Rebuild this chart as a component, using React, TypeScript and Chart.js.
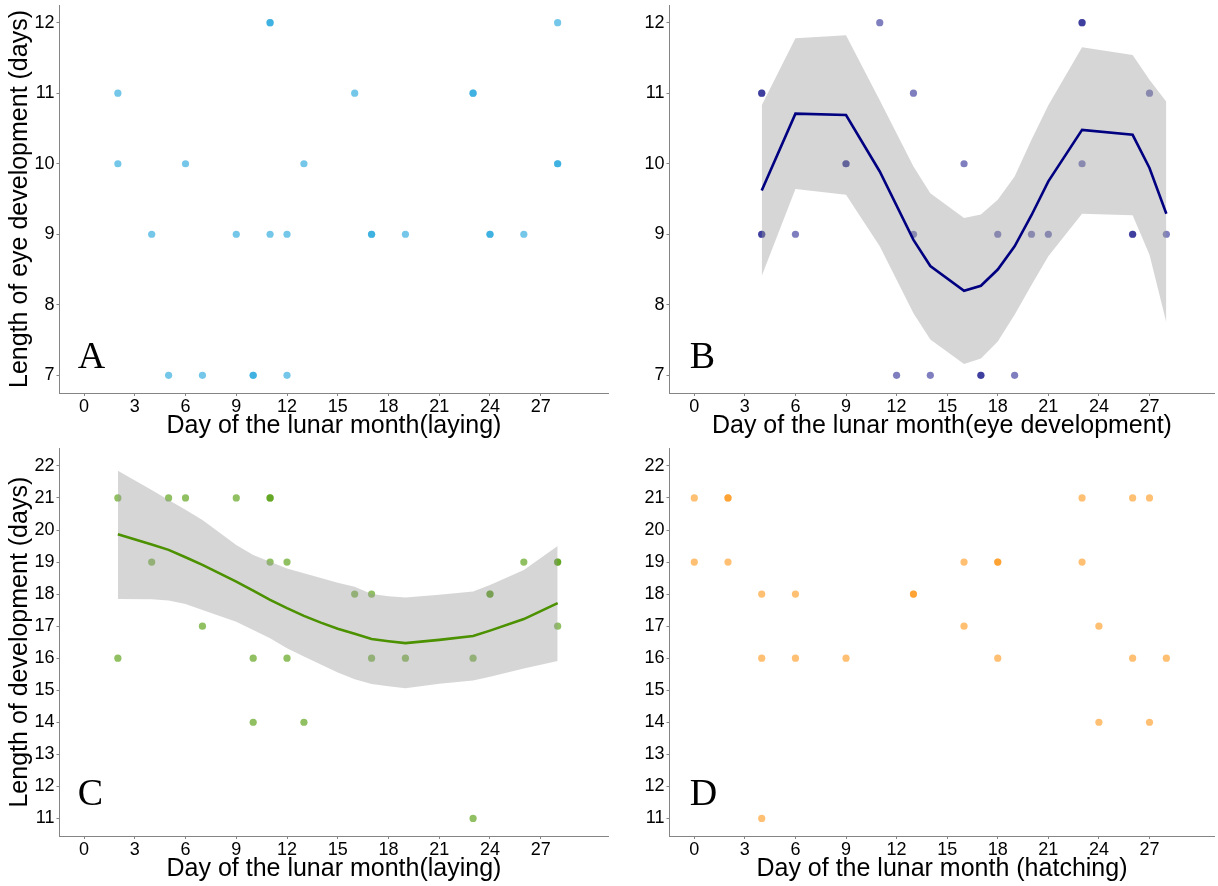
import { useEffect, useRef } from "react";
import { Chart, registerables } from "chart.js";

Chart.register(...registerables);

// ---- axis ticks ----
const dayTicks = [0, 3, 6, 9, 12, 15, 18, 21, 24, 27];
const eyeTicks = [7, 8, 9, 10, 11, 12];
const devTicks = [11, 12, 13, 14, 15, 16, 17, 18, 19, 20, 21, 22];

// ---- A: eye development vs. laying day ----
const layDayA = [2, 2, 4, 5, 6, 7, 9, 10, 10, 11, 11, 11, 12, 12, 13, 16, 17, 17, 19, 23, 23, 24, 24, 26, 28, 28, 28];
const eyeLenA = [11, 10, 9, 7, 10, 7, 9, 7, 7, 12, 12, 9, 9, 7, 10, 11, 9, 9, 9, 11, 11, 9, 9, 9, 12, 10, 10];

// ---- B: eye development vs. eye-development day ----
const eyeDayB = [4, 4, 4, 4, 6, 9, 9, 11, 12, 13, 13, 14, 16, 17, 17, 18, 19, 20, 21, 23, 23, 23, 26, 26, 27, 28];
const eyeLenB = [11, 11, 9, 9, 9, 10, 10, 12, 7, 11, 9, 7, 10, 7, 7, 9, 7, 9, 9, 12, 12, 10, 9, 9, 11, 9];
const smoothDayB = [4, 6, 9, 11, 13, 14, 16, 17, 18, 19, 20, 21, 23, 26, 27, 28];
const smoothFitB = [9.62, 10.71, 10.69, 9.89, 8.92, 8.55, 8.2, 8.27, 8.5, 8.83, 9.27, 9.75, 10.48, 10.41, 9.94, 9.29];
const smoothHiB = [10.83, 11.78, 11.82, 10.9, 9.96, 9.58, 9.23, 9.28, 9.49, 9.82, 10.34, 10.83, 11.65, 11.54, 11.19, 10.88];
const smoothLoB = [8.41, 9.64, 9.56, 8.83, 7.88, 7.51, 7.16, 7.24, 7.48, 7.86, 8.28, 8.69, 9.29, 9.27, 8.71, 7.75];

// ---- C: total development vs. laying day ----
const layDayC = [2, 2, 4, 5, 6, 7, 9, 10, 10, 11, 11, 11, 12, 12, 13, 16, 17, 17, 19, 23, 23, 24, 24, 26, 28, 28, 28];
const devLenC = [21, 16, 19, 21, 21, 17, 21, 16, 14, 21, 21, 19, 19, 16, 14, 18, 18, 16, 16, 16, 11, 18, 18, 19, 19, 19, 17];
const smoothDayC = [2, 4, 5, 6, 7, 9, 10, 11, 12, 13, 14, 15, 16, 17, 18, 19, 21, 23, 24, 26, 28];
const smoothFitC = [19.87, 19.55, 19.38, 19.15, 18.91, 18.39, 18.11, 17.82, 17.56, 17.32, 17.11, 16.92, 16.76, 16.6, 16.53, 16.47, 16.57, 16.69, 16.86, 17.22, 17.72];
const smoothHiC = [21.85, 21.25, 20.94, 20.63, 20.31, 19.53, 19.22, 19.01, 18.8, 18.65, 18.5, 18.35, 18.23, 18.0, 17.93, 17.89, 17.98, 18.08, 18.28, 18.75, 19.5];
const smoothLoC = [17.85, 17.84, 17.8, 17.69, 17.5, 17.14, 16.88, 16.62, 16.31, 16.05, 15.8, 15.55, 15.34, 15.19, 15.12, 15.06, 15.2, 15.3, 15.42, 15.68, 15.91];

// ---- D: total development vs. hatching day ----
const hatchDayD = [0, 0, 2, 2, 2, 4, 4, 4, 6, 6, 9, 13, 13, 16, 16, 18, 18, 18, 23, 23, 24, 24, 26, 26, 27, 27, 28];
const devLenD = [21, 19, 21, 21, 19, 18, 16, 11, 18, 16, 16, 18, 18, 19, 17, 19, 19, 16, 21, 19, 17, 14, 21, 16, 21, 14, 16];

// ---- panel tags ----
const panelTags = ["A", "B", "C", "D"];
const tagDay = [0.44, 0.49, 0.38, 0.55];
const tagLen = [7.105, 7.105, 11.42, 11.42];

const SANS = "'Liberation Sans', Arial, Helvetica, sans-serif";
const SERIF = "'Liberation Serif', 'Times New Roman', serif";
const AXIS = "#858585";
const RIBBON = "rgba(153,153,153,0.4)";

type Smooth = { x: number[]; fit: number[]; hi: number[]; lo: number[]; color: string };

type PanelProps = {
  left: number;
  top: number;
  width: number;
  height: number;
  pad: { top: number; right: number };
  yAxisW: number;
  xAxisH: number;
  xMin: number;
  xMax: number;
  yMin: number;
  yMax: number;
  yTicks: number[];
  xs: number[];
  ys: number[];
  pointColor: string;
  smooth?: Smooth;
  xTitle: string;
  xTitlePad: number;
  yTitle?: string;
  tagIndex: number;
};

const pairs = (xs: number[], ys: number[]) => xs.map((x, i) => ({ x, y: ys[i] }));

function Panel(p: PanelProps) {
  const ref = useRef<HTMLCanvasElement>(null);

  useEffect(() => {
    if (!ref.current) return;

    const datasets: any[] = [
      {
        label: "obs",
        data: pairs(p.xs, p.ys),
        showLine: false,
        backgroundColor: p.pointColor,
        borderColor: "rgba(0,0,0,0)",
        borderWidth: 0,
        pointRadius: 3.6,
        pointHoverRadius: 3.6,
        order: 3,
      },
    ];
    if (p.smooth) {
      const s = p.smooth;
      datasets.push(
        {
          label: "upper",
          data: pairs(s.x, s.hi),
          borderColor: "rgba(0,0,0,0)",
          borderWidth: 0,
          pointRadius: 0,
          backgroundColor: RIBBON,
          fill: "+1",
          order: 2,
        },
        {
          label: "lower",
          data: pairs(s.x, s.lo),
          borderColor: "rgba(0,0,0,0)",
          borderWidth: 0,
          pointRadius: 0,
          fill: false,
          order: 2,
        },
        {
          label: "fit",
          data: pairs(s.x, s.fit),
          borderColor: s.color,
          borderWidth: 2.6,
          pointRadius: 0,
          fill: false,
          tension: 0,
          order: 1,
        }
      );
    }

    const tagPlugin = {
      id: "panelTag",
      afterDatasetsDraw(chart: any) {
        const { ctx, scales } = chart;
        const i = p.tagIndex;
        ctx.save();
        ctx.fillStyle = "#000";
        ctx.font = `38px ${SERIF}`;
        ctx.textAlign = "center";
        ctx.textBaseline = "alphabetic";
        ctx.fillText(panelTags[i], scales.x.getPixelForValue(tagDay[i]), scales.y.getPixelForValue(tagLen[i]));
        ctx.restore();
      },
    };

    const gridOpts = {
      display: true,
      drawOnChartArea: false,
      drawTicks: true,
      tickLength: 3,
      color: AXIS,
      lineWidth: 1,
    };

    const chart = new Chart(ref.current, {
      type: "line",
      data: { datasets },
      plugins: [tagPlugin],
      options: {
        responsive: false,
        animation: false,
        devicePixelRatio: 1,
        layout: { padding: { left: 0, top: p.pad.top, right: p.pad.right, bottom: 0 } },
        plugins: { legend: { display: false }, tooltip: { enabled: false } },
        events: [],
        scales: {
          x: {
            type: "linear",
            min: p.xMin,
            max: p.xMax,
            afterBuildTicks: (s: any) => {
              s.ticks = dayTicks.map((v) => ({ value: v }));
            },
            afterFit: (s: any) => {
              s.height = p.xAxisH;
              s.paddingLeft = 0;
              s.paddingRight = 0;
            },
            grid: gridOpts,
            border: { display: true, color: AXIS, width: 1 },
            ticks: {
              color: "#000",
              font: { family: SANS, size: 18 },
              padding: 0.5,
              maxRotation: 0,
              autoSkip: false,
            },
            title: {
              display: true,
              text: p.xTitle,
              color: "#000",
              font: { family: SANS, size: 25, lineHeight: 1.1 },
              padding: { top: 0, bottom: p.xTitlePad },
            },
          },
          y: {
            type: "linear",
            min: p.yMin,
            max: p.yMax,
            afterBuildTicks: (s: any) => {
              s.ticks = p.yTicks.map((v) => ({ value: v }));
            },
            afterFit: (s: any) => {
              s.width = p.yAxisW;
              s.paddingTop = 0;
              s.paddingBottom = 0;
            },
            grid: gridOpts,
            border: { display: true, color: AXIS, width: 1 },
            ticks: {
              color: "#000",
              font: { family: SANS, size: 18 },
              padding: 2,
              autoSkip: false,
            },
            title: {
              display: !!p.yTitle,
              text: p.yTitle || "",
              color: "#000",
              font: { family: SANS, size: 25, lineHeight: 1.1 },
              padding: { top: 6.75, bottom: 0 },
            },
          },
        },
      } as any,
    });

    return () => chart.destroy();
  }, []);

  return (
    <canvas
      ref={ref}
      width={p.width}
      height={p.height}
      style={{ position: "absolute", left: p.left, top: p.top, width: p.width, height: p.height }}
    />
  );
}

export default function App() {
  return (
    <div
      style={{
        position: "absolute",
        left: 0,
        top: 0,
        width: 1218,
        height: 886,
        background: "#fff",
        overflow: "hidden",
      }}
    >
      <Panel
        left={0}
        top={0}
        width={612}
        height={440}
        pad={{ top: 5, right: 2 }}
        yAxisW={59.5}
        xAxisH={47}
        xMin={-1.45}
        xMax={31.0}
        yMin={6.75}
        yMax={12.25}
        yTicks={eyeTicks}
        xs={layDayA}
        ys={eyeLenA}
        pointColor="rgba(30,165,220,0.62)"
        xTitle="Day of the lunar month(laying)"
        xTitlePad={0}
        yTitle="Length of eye development (days)"
        tagIndex={0}
      />
      <Panel
        left={609}
        top={0}
        width={609}
        height={440}
        pad={{ top: 5, right: 0 }}
        yAxisW={60.5}
        xAxisH={47}
        xMin={-1.47}
        xMax={30.85}
        yMin={6.75}
        yMax={12.25}
        yTicks={eyeTicks}
        xs={eyeDayB}
        ys={eyeLenB}
        pointColor="rgba(0,0,128,0.5)"
        smooth={{ x: smoothDayB, fit: smoothFitB, hi: smoothHiB, lo: smoothLoB, color: "#000080" }}
        xTitle="Day of the lunar month(eye development)"
        xTitlePad={0}
        tagIndex={1}
      />
      <Panel
        left={0}
        top={440}
        width={612}
        height={446}
        pad={{ top: 8.3, right: 2 }}
        yAxisW={59.5}
        xAxisH={50}
        xMin={-1.45}
        xMax={31.0}
        yMin={10.45}
        yMax={22.55}
        yTicks={devTicks}
        xs={layDayC}
        ys={devLenC}
        pointColor="rgba(76,153,0,0.62)"
        smooth={{ x: smoothDayC, fit: smoothFitC, hi: smoothHiC, lo: smoothLoC, color: "#4c9100" }}
        xTitle="Day of the lunar month(laying)"
        xTitlePad={3}
        yTitle="Length of development (days)"
        tagIndex={2}
      />
      <Panel
        left={609}
        top={440}
        width={609}
        height={446}
        pad={{ top: 8.3, right: 0 }}
        yAxisW={60.5}
        xAxisH={50}
        xMin={-1.47}
        xMax={30.85}
        yMin={10.45}
        yMax={22.55}
        yTicks={devTicks}
        xs={hatchDayD}
        ys={devLenD}
        pointColor="rgba(255,140,0,0.55)"
        xTitle="Day of the lunar month (hatching)"
        xTitlePad={3}
        tagIndex={3}
      />
    </div>
  );
}
